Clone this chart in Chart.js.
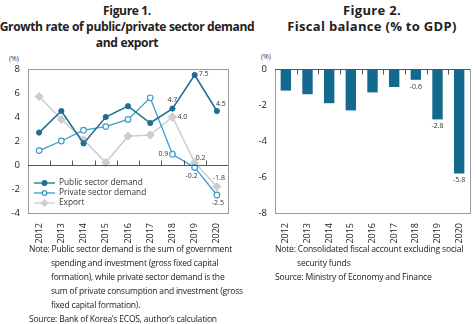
<!DOCTYPE html>
<html>
<head>
<meta charset="utf-8">
<script src="https://cdn.jsdelivr.net/npm/chart.js@4/dist/chart.umd.min.js"></script>
<style>
body { margin:0; background:#fff; font-family:"Open Sans", "Noto Sans", sans-serif; color:#222; }
#wrap { position:relative; width:476px; height:324px; overflow:hidden; }
.t { position:absolute; text-align:center; font-weight:bold; font-size:13px; line-height:16px; white-space:nowrap; }
.u { position:absolute; font-size:7px; color:#333; }
.n { position:absolute; font-size:8.5px; line-height:14px; letter-spacing:-0.2px; white-space:nowrap; }
.n .i { padding-left:22px; }
canvas { position:absolute; }
</style>
</head>
<body>
<div id="wrap">
  <div class="t" style="left:-13px;top:2px;width:280px;letter-spacing:-0.4px;transform:scaleX(0.93);">Figure 1.<br>Growth rate of public/private sector demand<br>and export</div>
  <div class="t" style="left:272px;top:2px;width:200px;letter-spacing:0.3px;">Figure 2.<br>Fiscal balance (% to GDP)</div>
  <div class="u" style="left:9px;top:54px;">(%)</div>
  <div class="u" style="left:261px;top:52px;">(%)</div>
  <canvas id="c1" width="235" height="200" style="left:0;top:50px;"></canvas>
  <canvas id="c2" width="236" height="200" style="left:240px;top:50px;"></canvas>
  <div class="n" style="left:29px;top:242px;width:215px;">
    Note: Public sector demand is the sum of government<br>
    <span class="i">spending and investment (gross fixed capital</span><br>
    <span class="i">formation), while private sector demand is the</span><br>
    <span class="i">sum of private consumption and investment (gross</span><br>
    <span class="i">fixed capital formation).</span><br>
    Source: Bank of Korea’s ECOS, author’s calculation
  </div>
  <div class="n" style="left:275px;top:242px;width:200px;font-size:8.6px;">
    Note: Consolidated fiscal account excluding social<br>
    <span class="i">security funds</span><br>
    Source: Ministry of Economy and Finance
  </div>
</div>
<script>
var years = ["2012","2013","2014","2015","2016","2017","2018","2019","2020"];
var publicDemand = [2.7, 4.5, 1.8, 4.0, 4.9, 3.5, 4.7, 7.5, 4.5];
var privateDemand = [1.2, 2.0, 2.9, 3.2, 3.8, 5.6, 0.9, -0.2, -2.5];
var exportGrowth = [5.7, 3.8, 2.1, 0.2, 2.4, 2.5, 4.0, 0.2, -1.8];
var fiscalBalance = [-1.2, -1.4, -1.9, -2.3, -1.3, -1.0, -0.6, -2.8, -5.8];
var fig1Ticks = [-4, -2, 0, 2, 4, 6, 8];
var fig2Ticks = [-8, -6, -4, -2, 0];

// which points get a value label, and where
var labelPos = [
  {6:[0,-9], 7:[9,-1], 8:[4,-7]},
  {6:[-9,0], 7:[-3,9], 8:[1,8]},
  {6:[10,0], 7:[6,-5], 8:[2,-9]}
];
var barLabelPos = {6:[0,7], 7:[0,7], 8:[0,7]};

function fmt(v){ return v.toFixed(1); }

var framePlugin = {
  id: 'frame',
  afterDraw: function(chart){
    var a = chart.chartArea, ctx = chart.ctx;
    ctx.save();
    ctx.strokeStyle = '#9a9a9a';
    ctx.lineWidth = 1;
    ctx.strokeRect(Math.round(a.left)+0.5, Math.round(a.top)+0.5, Math.round(a.right-a.left), Math.round(a.bottom-a.top));
    // zero axis with tick marks between categories
    var y0 = Math.round(chart.scales.y.getPixelForValue(0)) + 0.5;
    var xs = chart.scales.x;
    ctx.strokeStyle = '#555';
    ctx.beginPath();
    ctx.moveTo(a.left, y0); ctx.lineTo(a.right, y0);
    var dir = chart.options.plugins.frame.tickDir;
    for (var i = 1; i < years.length; i++) {
      var x = Math.round((xs.getPixelForValue(i-1) + xs.getPixelForValue(i)) / 2) + 0.5;
      ctx.moveTo(x, y0); ctx.lineTo(x, y0 + dir*5);
    }
    ctx.stroke();
    ctx.restore();
  }
};

var labelPlugin = {
  id: 'vlabels',
  afterDatasetsDraw: function(chart){
    var ctx = chart.ctx;
    var pos = chart.options.plugins.vlabels.pos;
    ctx.save();
    ctx.font = '7px "Open Sans", sans-serif';
    ctx.fillStyle = '#333';
    ctx.textAlign = 'center';
    ctx.textBaseline = 'middle';
    chart.data.datasets.forEach(function(ds, di){
      var p = pos[di] || {};
      var meta = chart.getDatasetMeta(di);
      meta.data.forEach(function(el, i){
        if (!p[i]) return;
        ctx.fillText(fmt(ds.data[i]), el.x + p[i][0], el.y + p[i][1]);
      });
    });
    ctx.restore();
  }
};

var legendPlugin = {
  id: 'inlegend',
  afterDraw: function(chart){
    var ctx = chart.ctx, a = chart.chartArea;
    ctx.save();
    ctx.font = '8.3px "Open Sans", sans-serif';
    ctx.textBaseline = 'middle';
    chart.data.datasets.forEach(function(ds, i){
      var y = 133 + i*10, x0 = a.left + 6;
      ctx.strokeStyle = ds.borderColor; ctx.lineWidth = 1.3;
      ctx.beginPath(); ctx.moveTo(x0, y); ctx.lineTo(x0+21, y); ctx.stroke();
      ctx.fillStyle = ds.pointBackgroundColor;
      ctx.beginPath();
      if (ds.pointStyle === 'rectRot') {
        ctx.moveTo(x0+10.5, y-3); ctx.lineTo(x0+13.5, y); ctx.lineTo(x0+10.5, y+3); ctx.lineTo(x0+7.5, y); ctx.closePath();
      } else {
        ctx.arc(x0+10.5, y, 2.3, 0, Math.PI*2);
      }
      ctx.fill(); ctx.stroke();
      ctx.fillStyle = '#333';
      ctx.fillText(ds.label, x0 + 25, y);
    });
    ctx.restore();
  }
};

function xAxis(h){
  return {
    type: 'category', offset: true,
    grid: { display: false }, border: { display: false },
    ticks: { maxRotation: 90, minRotation: 90, autoSkip: false, padding: 2, color: '#222', font: { size: 9, family: '"Open Sans", sans-serif' } },
    afterFit: function(s){ s.height = h; }
  };
}
function yAxis(min, max, w, ticks){
  return {
    min: min, max: max,
    grid: { display: false, drawTicks: false }, border: { display: false },
    afterBuildTicks: function(s){ s.ticks = ticks.map(function(v){ return {value: v}; }); },
    ticks: { color: '#222', padding: 8, font: { size: 9.5, family: '"Open Sans", sans-serif' },
      callback: function(v){ return v < 0 ? '-' + Math.abs(v) : v; } },
    afterFit: function(s){ s.width = w; }
  };
}

new Chart(document.getElementById('c1'), {
  type: 'line',
  data: {
    labels: years,
    datasets: [
      { label: 'Public sector demand', data: publicDemand, borderColor: '#1f6d92', backgroundColor: '#1f6d92',
        pointBackgroundColor: '#1f6d92', pointBorderColor: '#1f6d92', pointRadius: 2.6, borderWidth: 1.5, pointBorderWidth: 1 },
      { label: 'Private sector demand', data: privateDemand, borderColor: '#3b9cc8', backgroundColor: '#fff',
        pointBackgroundColor: '#fff', pointBorderColor: '#3b9cc8', pointRadius: 2.8, borderWidth: 1.3, pointBorderWidth: 1.2 },
      { label: 'Export', data: exportGrowth, borderColor: '#cdcdcd', backgroundColor: '#cdcdcd',
        pointBackgroundColor: '#cdcdcd', pointBorderColor: '#cdcdcd', pointStyle: 'rectRot', pointRadius: 3.6, borderWidth: 1.5 }
    ]
  },
  options: {
    responsive: false, animation: false, devicePixelRatio: 1,
    layout: { padding: { top: 19, right: 7, left: 0, bottom: 0 } },
    scales: { x: xAxis(37), y: yAxis(-4, 8, 28, fig1Ticks) },
    plugins: { legend: { display: false }, tooltip: { enabled: false },
      frame: { tickDir: -1 }, vlabels: { pos: labelPos } }
  },
  plugins: [framePlugin, labelPlugin, legendPlugin]
});

new Chart(document.getElementById('c2'), {
  type: 'bar',
  data: {
    labels: years,
    datasets: [
      { label: 'Fiscal balance', data: fiscalBalance, backgroundColor: '#136a8e', categoryPercentage: 1, barPercentage: 0.48 }
    ]
  },
  options: {
    responsive: false, animation: false, devicePixelRatio: 1,
    layout: { padding: { top: 19, right: 6, left: 0, bottom: 0 } },
    scales: { x: xAxis(37), y: yAxis(-8, 0, 35, fig2Ticks) },
    plugins: { legend: { display: false }, tooltip: { enabled: false },
      frame: { tickDir: 1 }, vlabels: { pos: [barLabelPos] } }
  },
  plugins: [framePlugin, labelPlugin]
});
</script>
</body>
</html>
